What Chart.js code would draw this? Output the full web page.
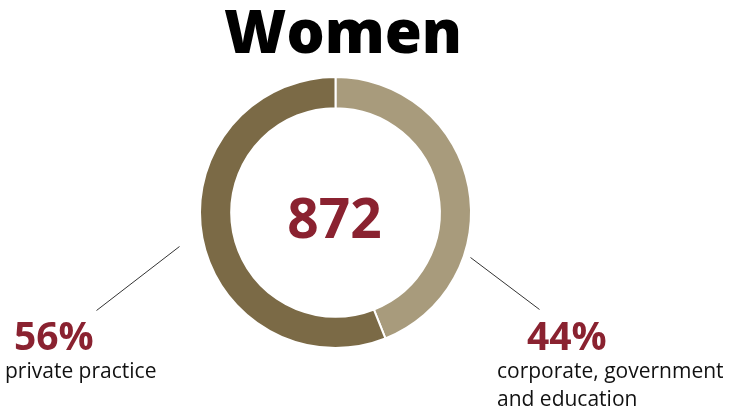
<!DOCTYPE html>
<html>
<head>
<meta charset="utf-8">
<script src="https://cdn.jsdelivr.net/npm/chart.js@4"></script>
<style>
  html, body { margin: 0; padding: 0; background: #fff; }
  #wrap { width: 735px; height: 413px; position: relative; }
</style>
</head>
<body>
<div id="wrap"><canvas id="myChart"></canvas></div>
<script>
var title = "Women";
var total = 872;
var sectors = ["corporate, government and education", "private practice"];
var percents = [44, 56];
var sectorLines = [["corporate, government", "and education"], ["private practice"]];
var sliceColors = ["#a89b7c", "#7b6a46"];

var red = "#8a2230";

// labels + leader lines drawn next to each slice
const ringText = {
  id: "ringText",
  afterDraw(chart) {
    const ctx = chart.ctx;
    const arc = chart.getDatasetMeta(0).data[0];
    const cx = arc.x, cy = arc.y;

    ctx.save();
    ctx.textAlign = "center";
    ctx.textBaseline = "alphabetic";
    ctx.fillStyle = "#000";
    ctx.font = "800 60px 'Open Sans'";
    ctx.fillText(title, 343, 53);

    ctx.fillStyle = red;
    ctx.font = "700 55px 'Open Sans'";
    ctx.fillText(String(total), cx - 1, cy + 25);

    // leader lines
    ctx.strokeStyle = "#333";
    ctx.lineWidth = 1;
    ctx.beginPath();
    ctx.moveTo(cx + 135, cy + 45);
    ctx.lineTo(cx + 204, cy + 97);
    ctx.moveTo(cx - 156, cy + 34);
    ctx.lineTo(cx - 239, cy + 98);
    ctx.stroke();

    ctx.textAlign = "left";
    ctx.font = "700 39px 'Open Sans'";
    ctx.fillText(percents[0] + "%", 527, 350);
    ctx.fillText(percents[1] + "%", 14, 350);

    ctx.fillStyle = "#111";
    ctx.font = "400 21px 'Open Sans'";
    ctx.fillText(sectorLines[0][0], 497, 378);
    ctx.fillText(sectorLines[0][1], 497, 406);
    ctx.fillText(sectorLines[1][0], 5, 378);
    ctx.restore();
  }
};

new Chart("myChart", {
  type: "doughnut",
  data: {
    labels: sectors,
    datasets: [{
      data: percents,
      backgroundColor: sliceColors,
      borderColor: "#fff",
      borderWidth: 2
    }]
  },
  options: {
    responsive: true,
    maintainAspectRatio: false,
    animation: false,
    cutout: "77%",
    layout: { padding: { left: 199, right: 263, top: 76, bottom: 64 } },
    plugins: {
      legend: { display: false },
      tooltip: { enabled: false }
    }
  },
  plugins: [ringText]
});
</script>
</body>
</html>
